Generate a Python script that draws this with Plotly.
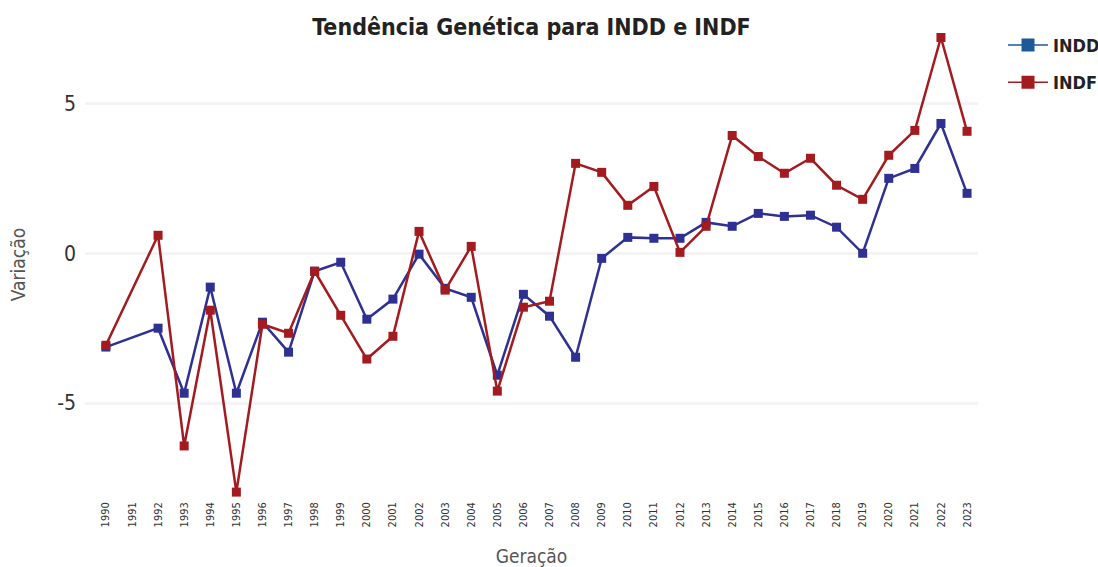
import plotly.graph_objects as go

years = list(range(1990, 2024))
indd = [-3.13, None, -2.5, -4.67, -1.13, -4.67, -2.3, -3.3, -0.6, -0.3, -2.2, -1.53, -0.03, -1.17,
        -1.47, -4.07, -1.37, -2.1, -3.47, -0.17, 0.53, 0.5, 0.5, 1.03, 0.9, 1.33, 1.23, 1.27,
        0.87, 0.0, 2.5, 2.83, 4.33, 2.0]
indf = [-3.07, None, 0.6, -6.43, -1.9, -7.97, -2.37, -2.67, -0.6, -2.07, -3.53, -2.77, 0.73, -1.23,
        0.23, -4.6, -1.8, -1.6, 3.0, 2.7, 1.6, 2.23, 0.03, 0.9, 3.93, 3.23, 2.67, 3.17,
        2.27, 1.8, 3.27, 4.1, 7.2, 4.07]
y_ticks = [-5, 0, 5]

FONT = "DejaVu Sans Condensed, Roboto, sans-serif"
BLUE = "#2e3192"
RED = "#a31b1f"

fig = go.Figure()
fig.add_trace(go.Scatter(x=years, y=indd, name="INDD", mode="lines+markers", connectgaps=True,
                         showlegend=False,
                         line=dict(color=BLUE, width=2.5),
                         marker=dict(symbol="square", size=9, color=BLUE)))
fig.add_trace(go.Scatter(x=years, y=indf, name="INDF", mode="lines+markers", connectgaps=True,
                         showlegend=False,
                         line=dict(color=RED, width=2.5),
                         marker=dict(symbol="square", size=9, color=RED)))
# legend entries
fig.add_trace(go.Scatter(x=[None], y=[None], name="<b>INDD</b>", mode="lines+markers",
                         legendgroup="a",
                         line=dict(color="#1b5a96", width=1.5),
                         marker=dict(symbol="square", size=13, color="#1b5a96")))
fig.add_trace(go.Scatter(x=[None], y=[None], name="<b>INDF</b>", mode="lines+markers",
                         legendgroup="b",
                         line=dict(color=RED, width=1.5),
                         marker=dict(symbol="square", size=13, color=RED)))

fig.update_layout(
    width=1098, height=567,
    margin=dict(l=85, r=120, t=30, b=68, autoexpand=False),
    paper_bgcolor="white", plot_bgcolor="white",
    font=dict(family=FONT, color="#333"),
    title=dict(text="<b>Tendência Genética para INDD e INDF</b>", x=0.5, xref="paper",
               xanchor="center", y=0.953, yanchor="middle",
               font=dict(size=23, color="#222", family=FONT)),
    legend=dict(x=1.028, y=1.007, xanchor="left", yanchor="top",
                font=dict(size=18, color="#222", family=FONT), itemwidth=40,
                tracegroupgap=11),
    xaxis=dict(range=[1989.2, 2023.42], tickmode="array", tickvals=years,
               ticktext=[str(y) for y in years], tickangle=-90, automargin=False,
               tickfont=dict(size=11, color="#333"), showgrid=False, zeroline=False,
               showline=False, ticks="",
               title=dict(text="Geração", font=dict(size=19, color="#555"), standoff=24)),
    yaxis=dict(range=[-8.2, 7.45], tickmode="array", tickvals=y_ticks,
               ticktext=[str(v) for v in y_ticks], automargin=False, ticklabelstandoff=8,
               tickfont=dict(size=21, color="#333"), showgrid=True, gridcolor="#f4f4f4",
               gridwidth=3, zeroline=False, showline=False, ticks="",
               title=dict(text="Variação", font=dict(size=19, color="#555"), standoff=26)),
)

fig.write_html("out.html", config={"displayModeBar": False},
               post_script="document.body.style.margin='0';document.body.style.overflow='hidden';")
